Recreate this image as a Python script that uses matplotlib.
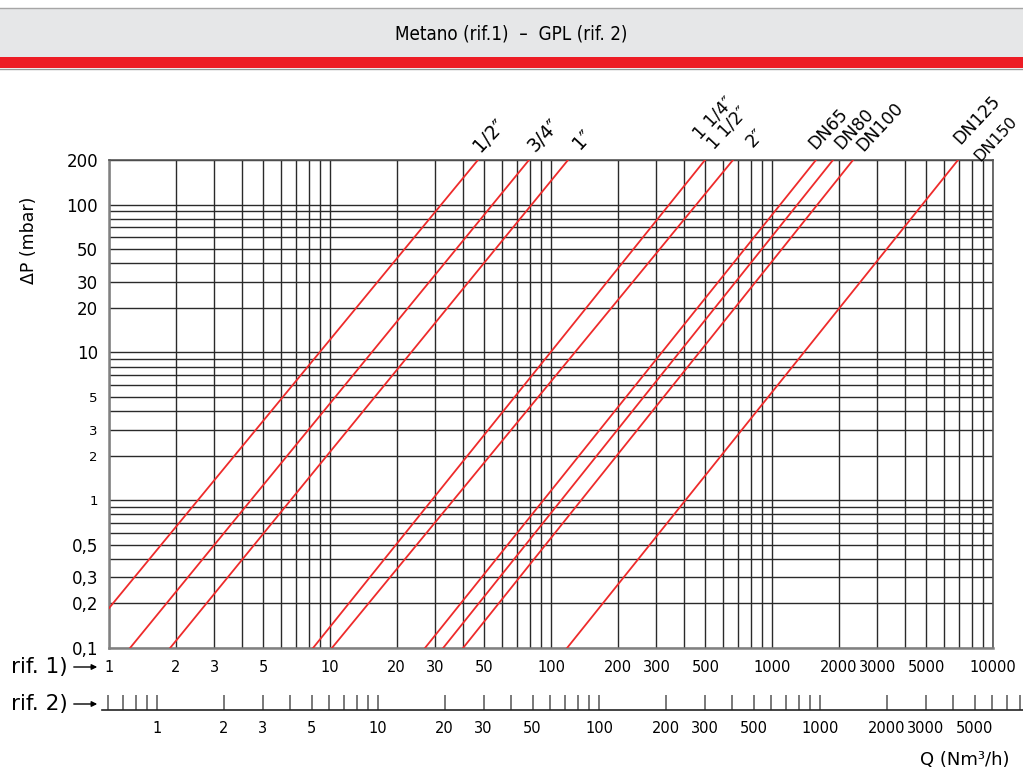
import matplotlib
matplotlib.use('Agg')
import matplotlib.pyplot as plt
from matplotlib.patches import Rectangle
from matplotlib.ticker import FixedLocator, FixedFormatter, LogLocator, NullFormatter
import numpy as np

plt.rcParams['font.family'] = ['DejaVu Sans']

# pipe sizes: each line is straight on log-log paper, read at both ends (Q rif.1, dP mbar)
sizes = ['1/2″', '3/4″', '1″', '1 1/4″', '1 1/2″', 'DN65', 'DN80', 'DN100', 'DN125']
q_start = [1.0, 1.245, 1.89, 8.38, 10.2, 26.9, 32.5, 40.0, 118.2]
dp_start = [0.186, 0.1, 0.1, 0.1, 0.1, 0.1, 0.1, 0.1, 0.1]
q_end = [46.7, 79.5, 119.4, 497.6, 666.0, 1581.0, 1888.0, 2327.0, 6947.0]
dp_end = [200, 200, 200, 200, 200, 200, 200, 200, 200]

# labels written above the top edge
label_text = ['1/2″', '3/4″', '1″', '1 1/4″', '1 1/2″', '2″', 'DN65', 'DN80', 'DN100', 'DN125', 'DN150']
label_q = [45.8, 80.4, 128, 448, 519, 778, 1486, 1949, 2449, 6730, 8293]
label_lift = [7, 7, 10, 20, 10, 12, 10, 10, 8, 15, -2]
label_size = [13.5, 13.5, 13.5, 12.5, 12.5, 13, 12.5, 12.5, 12.5, 12.5, 11.5]

y_ticks = [0.1, 0.2, 0.3, 0.5, 1, 2, 3, 5, 10, 20, 30, 50, 100, 200]
y_labels = ['0,1', '0,2', '0,3', '0,5', '1', '2', '3', '5', '10', '20', '30', '50', '100', '200']
y_small = ['1', '2', '3', '5']

rif1_ticks = [1, 2, 3, 5, 10, 20, 30, 50, 100, 200, 300, 500, 1000, 2000, 3000, 5000, 10000]
rif2_labels = [1, 2, 3, 5, 10, 20, 30, 50, 100, 200, 300, 500, 1000, 2000, 3000, 5000]
rif2_ticks = [0.6, 0.7, 0.8, 0.9,
              1, 2, 3, 4, 5, 6, 7, 8, 9,
              10, 20, 30, 40, 50, 60, 70, 80, 90,
              100, 200, 300, 400, 500, 600, 700, 800, 900,
              1000, 2000, 3000, 4000, 5000, 6000, 7000, 8000]
gpl_factor = 1.65  # metano Q that sits above GPL Q = 1

W, H = 1023, 774
fig = plt.figure(figsize=(W / 100, H / 100), dpi=100)

# header band
fig.patches.append(Rectangle((0, 1 - 57 / H), 1, 49 / H, transform=fig.transFigure,
                             facecolor='#e6e7e8', edgecolor='none'))
fig.patches.append(Rectangle((0, 1 - 68 / H), 1, 11 / H, transform=fig.transFigure,
                             facecolor='#ed1c24', edgecolor='none'))
fig.add_artist(plt.Line2D([0, 1], [1 - 8 / H] * 2, transform=fig.transFigure, color='#a6a6a6', lw=1))
fig.add_artist(plt.Line2D([0, 1], [1 - 68.5 / H] * 2, transform=fig.transFigure, color='#999999', lw=1))
fig.text(0.5, 1 - 34 / H, 'Metano (rif.1)  –  GPL (rif. 2)', ha='center', va='center',
         fontsize=13.5, stretch='condensed')

# main chart
left, right, bottom, top = 109, 993, 648, 160
ax = fig.add_axes([left / W, 1 - bottom / H, (right - left) / W, (bottom - top) / H])
ax.set_xscale('log')
ax.set_yscale('log')
ax.set_xlim(1, 10000)
ax.set_ylim(0.1, 200)

for i in range(len(sizes)):
    ax.plot([q_start[i], q_end[i]], [dp_start[i], dp_end[i]], color='#ee2b2b', lw=1.3, zorder=3)

ax.xaxis.set_minor_locator(LogLocator(base=10, subs=np.arange(2, 10)))
ax.yaxis.set_minor_locator(LogLocator(base=10, subs=np.arange(2, 10)))
ax.xaxis.set_minor_formatter(NullFormatter())
ax.yaxis.set_minor_formatter(NullFormatter())
ax.grid(True, which='both', color='#2a2a2a', lw=1.0)
ax.set_axisbelow(True)

ax.set_xticks(rif1_ticks)
ax.set_xticklabels([str(v) for v in rif1_ticks])
ax.set_yticks(y_ticks)
ax.set_yticklabels(y_labels)
ax.tick_params(which='both', length=0)
ax.tick_params(axis='x', labelsize=10.5, pad=9)
ax.tick_params(axis='y', labelsize=12, pad=8)
for t in ax.get_yticklabels():
    if t.get_text() in y_small:
        t.set_fontsize(9.5)

for s in ['left', 'bottom']:
    ax.spines[s].set_color('#808080')
    ax.spines[s].set_linewidth(1.8)
for s in ['top', 'right']:
    ax.spines[s].set_color('#555555')
    ax.spines[s].set_linewidth(1.2)

ax.set_ylabel('ΔP (mbar)', fontsize=12.5)
ax.yaxis.set_label_coords(-0.080, 0.836)

for txt, q, lift, fs in zip(label_text, label_q, label_lift, label_size):
    ax.annotate(txt, xy=(q, 200), xytext=(3.5, lift * 0.72), textcoords='offset points',
                rotation=47, rotation_mode='anchor', ha='left', va='baseline',
                fontsize=fs, annotation_clip=False)

# rif. 2 scale (GPL)
x0, x1, yb = 102, 1023, 710
dec_per_px = 4 / (right - left)
lo = 10 ** ((x0 - left) * dec_per_px) / gpl_factor
hi = 10 ** ((x1 - left) * dec_per_px) / gpl_factor
ax2 = fig.add_axes([x0 / W, 1 - yb / H, (x1 - x0) / W, 15 / H])
ax2.set_xscale('log')
ax2.set_xlim(lo, hi)
ax2.patch.set_visible(False)
ax2.set_yticks([])
for s in ['top', 'left', 'right']:
    ax2.spines[s].set_visible(False)
ax2.spines['bottom'].set_color('#222222')
ax2.spines['bottom'].set_linewidth(1.2)
ax2.xaxis.set_major_locator(FixedLocator(rif2_ticks))
ax2.xaxis.set_major_formatter(FixedFormatter([str(v) if v in rif2_labels else '' for v in rif2_ticks]))
ax2.xaxis.set_minor_locator(FixedLocator([]))
ax2.tick_params(axis='x', direction='in', length=11, width=1.1, color='#555555',
                labelsize=10.5, pad=8)

# side texts and arrows
for label, ypx in [('rif. 1)', 667), ('rif. 2)', 704)]:
    fig.text(68 / W, 1 - ypx / H, label, ha='right', va='center', fontsize=15.5)
    fig.add_artist(matplotlib.patches.FancyArrowPatch(
        (71 / W, 1 - ypx / H), (100 / W, 1 - ypx / H), transform=fig.transFigure,
        arrowstyle='-|>', mutation_scale=8, color='black', lw=1))

fig.text(1010 / W, 1 - 760 / H, 'Q (Nm³/h)', ha='right', va='center', fontsize=13)

fig.savefig('out.png', dpi=100)
